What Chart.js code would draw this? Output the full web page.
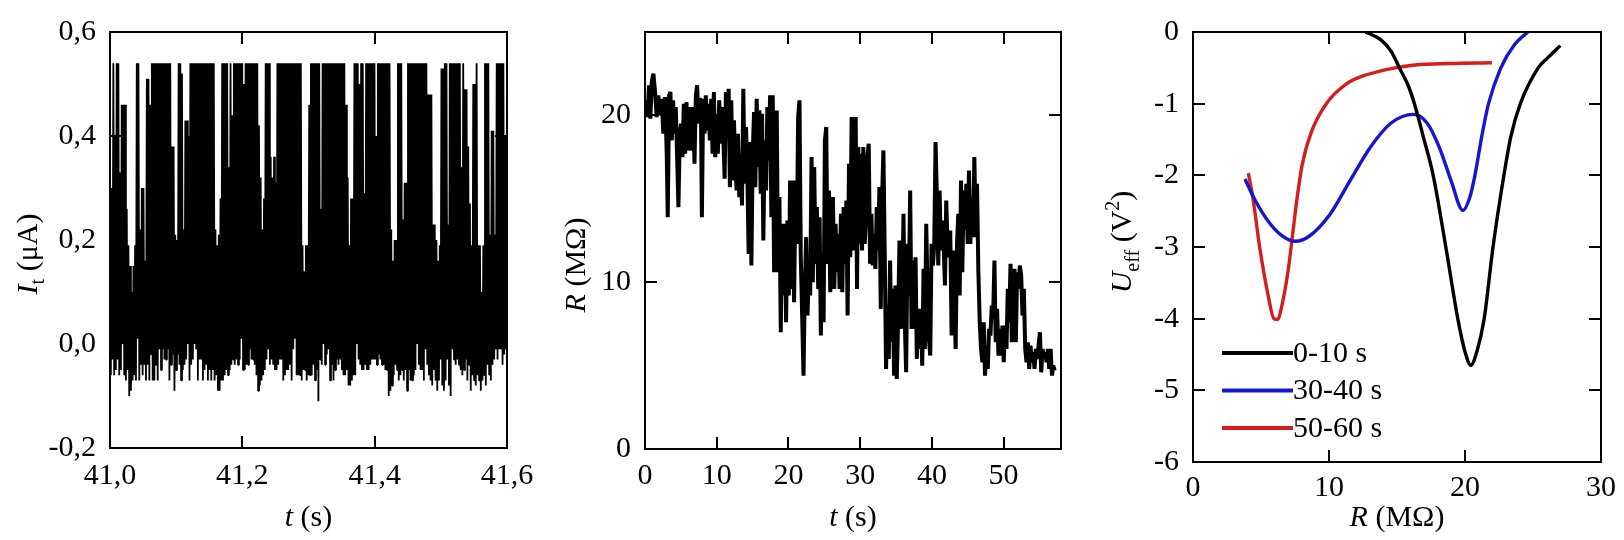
<!DOCTYPE html>
<html>
<head>
<meta charset="utf-8">
<script src="https://cdn.jsdelivr.net/npm/chart.js@4.4.1/dist/chart.umd.min.js"></script>
<style>
  body { margin: 0; background: #fff; }
  #wrap { position: relative; width: 1624px; height: 540px; }
  canvas { position: absolute; top: 0; }
</style>
</head>
<body>
<div id="wrap">
  <canvas id="c1" width="545" height="540" style="left:0px"></canvas>
  <canvas id="c2" width="535" height="540" style="left:545px"></canvas>
  <canvas id="c3" width="544" height="540" style="left:1080px"></canvas>
</div>
<script>
// ---- panel 1: tunnel current, upper / lower envelope read per sample ----
const currentStart = 41.0;
const currentStep = 0.00253;
const currentHigh = [
  0.30,0.30,0.54,0.40,0.54,0.54,0.33,0.46,0.46,0.46,
  0.26,0.19,0.15,0.10,0.15,0.19,0.54,0.54,0.22,0.30,
  0.30,0.16,0.51,0.51,0.46,0.54,0.54,0.54,0.54,0.54,
  0.54,0.54,0.54,0.54,0.54,0.54,0.54,0.38,0.38,0.21,
  0.20,0.54,0.54,0.52,0.22,0.43,0.43,0.40,0.54,0.54,
  0.54,0.54,0.54,0.54,0.54,0.54,0.54,0.54,0.54,0.54,
  0.54,0.54,0.54,0.22,0.19,0.21,0.28,0.54,0.54,0.54,
  0.54,0.34,0.54,0.44,0.54,0.54,0.54,0.54,0.54,0.54,
  0.50,0.54,0.54,0.54,0.54,0.54,0.54,0.54,0.54,0.42,
  0.32,0.22,0.28,0.54,0.54,0.54,0.36,0.32,0.36,0.31,
  0.54,0.54,0.54,0.54,0.54,0.54,0.54,0.54,0.54,0.54,
  0.54,0.54,0.54,0.54,0.54,0.19,0.14,0.19,0.19,0.46,
  0.54,0.54,0.54,0.54,0.54,0.54,0.26,0.54,0.54,0.54,
  0.54,0.54,0.54,0.54,0.54,0.54,0.54,0.54,0.54,0.54,
  0.54,0.46,0.32,0.19,0.28,0.28,0.54,0.54,0.54,0.50,
  0.54,0.54,0.29,0.54,0.54,0.54,0.54,0.54,0.54,0.40,
  0.54,0.54,0.54,0.54,0.54,0.54,0.54,0.54,0.22,0.16,
  0.20,0.20,0.54,0.54,0.54,0.24,0.31,0.31,0.54,0.54,
  0.54,0.54,0.54,0.54,0.54,0.54,0.54,0.54,0.54,0.54,
  0.48,0.48,0.48,0.23,0.23,0.20,0.16,0.19,0.53,0.53,
  0.54,0.54,0.23,0.54,0.54,0.54,0.54,0.54,0.54,0.54,
  0.34,0.54,0.49,0.49,0.38,0.27,0.19,0.50,0.50,0.54,
  0.19,0.19,0.10,0.19,0.54,0.54,0.54,0.21,0.41,0.41,
  0.21,0.54,0.54,0.54,0.54,0.54,0.40,0.36
];
const currentLow = [
  -0.06,-0.03,-0.06,-0.05,-0.03,-0.06,-0.05,0.00,-0.06,-0.07,
  -0.05,-0.10,-0.09,-0.07,-0.06,-0.07,0.01,-0.07,-0.04,-0.06,
  -0.04,-0.07,-0.04,-0.07,-0.02,-0.07,-0.07,-0.04,-0.07,-0.01,
  -0.05,-0.01,-0.03,-0.03,-0.01,-0.07,-0.04,-0.02,-0.09,-0.05,
  -0.02,-0.04,-0.07,-0.05,-0.04,-0.03,0.00,-0.07,-0.04,-0.03,
  0.00,-0.01,-0.07,-0.03,-0.03,-0.07,-0.05,-0.04,-0.07,-0.05,
  -0.07,-0.05,-0.07,-0.06,-0.09,-0.09,-0.07,-0.07,-0.06,-0.05,
  -0.06,-0.05,-0.04,-0.03,-0.04,-0.03,-0.04,-0.03,0.01,-0.05,
  -0.05,-0.04,-0.04,-0.01,-0.03,-0.03,-0.04,-0.06,-0.09,-0.08,
  -0.07,-0.06,-0.05,-0.03,-0.01,-0.04,-0.03,-0.04,-0.05,-0.05,
  -0.04,-0.03,-0.03,-0.07,-0.06,-0.05,-0.05,-0.04,-0.07,-0.01,
  0.01,-0.06,-0.06,-0.06,-0.07,-0.05,-0.05,-0.07,-0.06,-0.06,
  -0.06,-0.04,-0.07,-0.05,-0.11,-0.03,-0.04,0.00,-0.04,-0.02,
  -0.01,-0.07,-0.04,-0.07,-0.05,-0.03,-0.04,-0.03,-0.05,-0.06,
  -0.06,-0.05,-0.08,-0.08,-0.07,-0.06,-0.06,0.00,-0.03,-0.04,
  -0.05,-0.05,-0.04,-0.05,-0.05,-0.04,-0.03,-0.03,-0.03,-0.04,
  -0.02,-0.03,-0.04,-0.04,-0.05,-0.05,-0.10,-0.09,-0.08,-0.06,
  -0.04,-0.05,-0.07,-0.06,-0.05,-0.07,-0.05,-0.09,-0.05,-0.07,
  -0.07,-0.06,-0.05,0.00,-0.04,-0.05,-0.05,-0.07,-0.01,-0.04,
  -0.06,-0.07,-0.08,-0.05,-0.07,-0.09,-0.07,-0.03,-0.08,-0.09,
  -0.07,-0.03,-0.08,-0.10,-0.01,-0.03,-0.04,-0.03,-0.04,-0.05,
  -0.06,-0.05,-0.03,-0.07,-0.04,-0.09,-0.06,-0.07,-0.08,-0.06,
  -0.07,-0.09,-0.07,-0.06,-0.08,-0.04,-0.06,-0.07,-0.04,-0.03,
  -0.01,-0.03,-0.01,-0.01,-0.04,-0.02,-0.01,-0.04
];
const currentXTicks = [41.0, 41.2, 41.4, 41.6];
const currentXLabels = ["41,0", "41,2", "41,4", "41,6"];
const currentYTicks = [-0.2, 0, 0.2, 0.4, 0.6];
const currentYLabels = ["-0,2", "0,0", "0,2", "0,4", "0,6"];

// ---- panel 2: resistance vs time ----
const resistanceTime = [
  0.05,0.37,0.56,0.75,0.93,1.17,1.40,1.63,1.86,2.10,
  2.33,2.56,2.80,3.03,3.17,3.36,3.54,3.73,3.92,4.10,
  4.29,4.48,4.66,4.85,5.03,5.22,5.41,5.59,5.78,5.97,
  6.15,6.34,6.53,6.71,6.90,7.09,7.27,7.46,7.60,7.79,
  7.93,8.11,8.30,8.48,8.67,8.86,9.04,9.23,9.42,9.60,
  9.79,9.98,10.16,10.35,10.54,10.72,10.91,11.10,11.28,11.47,
  11.66,11.84,12.03,12.21,12.40,12.59,12.77,12.96,13.15,13.33,
  13.52,13.71,13.89,14.08,14.27,14.45,14.64,14.83,15.01,15.20,
  15.38,15.57,15.76,15.94,16.13,16.32,16.50,16.69,16.88,17.06,
  17.25,17.44,17.62,17.81,18.00,18.18,18.37,18.55,18.74,18.93,
  19.11,19.30,19.49,19.67,19.86,20.05,20.23,20.42,20.61,20.79,
  20.98,21.17,21.35,21.54,21.72,21.91,22.10,22.28,22.47,22.66,
  22.84,23.03,23.22,23.40,23.59,23.78,23.96,24.15,24.34,24.52,
  24.71,24.90,25.08,25.27,25.45,25.64,25.83,26.01,26.20,26.39,
  26.57,26.76,26.95,27.13,27.32,27.51,27.69,27.88,28.07,28.25,
  28.44,28.62,28.81,29.00,29.18,29.37,29.56,29.74,29.93,30.07,
  30.26,30.44,30.63,30.82,31.00,31.19,31.38,31.56,31.75,31.93,
  32.12,32.31,32.49,32.68,32.87,33.05,33.24,33.43,33.61,33.80,
  33.99,34.17,34.36,34.55,34.73,34.92,35.10,35.29,35.48,35.66,
  35.85,36.04,36.22,36.41,36.60,36.78,36.97,37.16,37.34,37.53,
  37.72,37.90,38.09,38.28,38.46,38.65,38.84,39.02,39.21,39.39,
  39.58,39.77,39.95,40.14,40.33,40.51,40.70,40.89,41.07,41.26,
  41.45,41.63,41.82,42.00,42.19,42.38,42.56,42.75,42.94,43.12,
  43.31,43.50,43.68,43.87,44.06,44.24,44.43,44.62,44.80,44.99,
  45.17,45.36,45.55,45.73,45.92,46.11,46.29,46.48,46.67,46.85,
  47.04,47.23,47.41,47.60,47.79,47.97,48.16,48.35,48.53,48.72,
  48.90,49.09,49.28,49.46,49.65,49.84,50.02,50.21,50.40,50.58,
  50.77,50.96,51.14,51.33,51.52,51.70,51.89,52.07,52.26,52.45,
  52.63,52.82,53.01,53.19,53.38,53.57,53.75,53.94,54.13,54.31,
  54.50,54.69,54.87,55.06,55.24,55.43,55.62,55.80,55.99,56.18,
  56.36,56.55,56.74,56.92,57.11
];
const resistanceValue = [
  20.9,19.9,21.8,19.8,22.0,22.5,21.4,19.9,21.2,20.0,
  21.0,18.9,21.1,17.7,13.9,21.2,21.4,18.5,20.9,18.9,
  20.5,17.5,14.5,18.9,19.5,17.5,20.7,17.7,20.8,17.9,
  20.5,18.5,17.9,20.5,17.1,21.2,21.8,19.5,21.0,20.9,
  13.9,21.0,18.9,21.2,19.1,20.7,18.5,21.0,17.7,21.4,
  17.5,20.1,17.7,20.9,18.3,20.5,18.9,16.2,21.4,18.7,
  21.6,15.7,20.9,16.1,19.7,17.3,15.5,18.9,15.1,17.7,
  14.6,21.6,15.9,19.3,16.5,11.7,18.4,11.0,17.5,20.2,
  15.7,21.0,16.9,20.3,15.3,20.1,12.5,18.5,15.5,20.5,
  17.3,21.2,13.9,21.2,10.6,13.5,20.3,10.6,15.1,7.0,
  13.5,9.2,13.5,7.6,13.7,9.2,16.1,9.6,16.1,8.8,
  16.1,12.3,19.9,20.9,11.5,8.0,4.4,9.6,12.7,8.0,
  10.6,9.2,17.5,10.0,16.9,11.1,14.5,9.6,13.9,6.8,
  11.7,7.6,18.5,19.3,11.1,15.5,9.4,11.9,15.1,9.6,
  13.5,10.6,12.9,9.6,14.1,9.4,14.5,11.1,14.9,8.0,
  17.1,11.5,19.9,18.1,11.9,19.9,9.6,18.1,12.3,17.7,
  11.9,18.1,12.3,13.9,17.5,18.3,11.1,14.1,11.0,12.9,
  10.8,14.5,11.9,15.7,8.4,14.9,17.9,11.5,4.8,8.6,
  5.4,11.3,6.4,9.6,4.4,9.8,4.2,7.6,12.5,7.2,
  8.6,14.1,7.6,4.6,12.3,9.2,15.5,7.2,11.3,7.2,
  11.5,5.4,8.4,6.0,8.4,5.0,10.8,6.0,13.5,9.6,
  6.6,5.6,12.3,11.0,12.3,18.4,15.1,11.0,15.5,11.9,
  13.7,12.3,9.8,14.9,12.1,11.5,13.1,6.8,11.9,9.0,
  6.0,12.3,14.1,9.2,16.1,10.6,15.5,13.1,15.9,12.3,
  16.7,12.3,15.1,12.7,17.5,12.7,15.9,10.6,7.6,6.0,
  5.2,7.6,4.4,6.2,4.8,7.2,6.8,8.6,7.8,11.3,
  6.4,8.4,5.6,7.2,5.6,7.4,5.2,7.4,6.0,9.6,
  7.6,11.1,6.4,9.6,10.8,6.4,10.6,9.6,11.0,10.4,
  8.0,9.6,6.0,5.2,6.4,4.8,6.2,5.2,5.8,4.8,
  6.0,5.4,6.2,7.0,4.6,6.0,5.4,5.8,5.2,6.0,
  4.8,6.0,4.4,5.0,4.7
];
const resistanceXTicks = [0, 10, 20, 30, 40, 50];
const resistanceXLabels = ["0", "10", "20", "30", "40", "50"];
const resistanceYTicks = [0, 10, 20];
const resistanceYLabels = ["0", "10", "20"];

// ---- panel 3: effective potential ----
const potentialLabels = ["0-10 s", "30-40 s", "50-60 s"];
const potentialColors = ["#000000", "#1616d0", "#d41e1e"];
const potentialR0 = [12.69,13.82,14.57,15.20,15.83,16.28,16.96,17.66,18.59,19.47,19.97,20.43,20.90,21.41,22.06,22.86,23.37,24.07,25.38,26.13,27.01];
const potentialU0 = [0,-0.11,-0.27,-0.51,-0.75,-1.0,-1.48,-2.0,-3.0,-4.0,-4.44,-4.65,-4.44,-4.0,-3.0,-2.0,-1.46,-1.0,-0.5,-0.35,-0.19];
const potentialR1 = [3.82,4.52,5.53,6.53,7.54,8.54,10.05,11.56,13.07,14.57,16.21,17.21,18.09,18.97,19.85,20.35,20.73,21.23,21.73,22.61,23.62,24.62];
const potentialU1 = [-2.05,-2.33,-2.64,-2.84,-2.92,-2.85,-2.55,-2.07,-1.60,-1.27,-1.15,-1.27,-1.60,-2.07,-2.49,-2.31,-2.0,-1.46,-1.0,-0.51,-0.18,0];
const potentialR2 = [4.07,4.40,4.90,5.53,5.95,6.23,6.53,6.98,7.29,7.66,8.04,8.67,9.80,11.31,12.56,14.57,16.33,18.84,21.98];
const potentialU2 = [-1.97,-2.31,-3.0,-3.68,-4.0,-4.01,-3.82,-3.35,-2.88,-2.31,-1.84,-1.41,-1.0,-0.72,-0.61,-0.51,-0.46,-0.44,-0.43];
const potentialXTicks = [0, 10, 20, 30];
const potentialXLabels = ["0", "10", "20", "30"];
const potentialYTicks = [-6, -5, -4, -3, -2, -1, 0];
const potentialYLabels = ["-6", "-5", "-4", "-3", "-2", "-1", "0"];

const SERIF = '"Liberation Serif", "Times New Roman", serif';
Chart.defaults.font.family = SERIF;
Chart.defaults.font.size = 30;
Chart.defaults.color = "#000";

function fontOf(p) {
  return (p.italic ? "italic " : "") + (p.size || 30) + "px " + SERIF;
}

// text with italic / sub / sup pieces, centred on (x, y) baseline
function drawRich(ctx, parts, x, y, vertical) {
  ctx.save();
  ctx.translate(x, y);
  if (vertical) ctx.rotate(-Math.PI / 2);
  ctx.textAlign = "left";
  ctx.textBaseline = "alphabetic";
  let w = 0;
  parts.forEach(p => { ctx.font = fontOf(p); w += ctx.measureText(p.text).width; });
  let cx = -w / 2;
  parts.forEach(p => {
    ctx.font = fontOf(p);
    ctx.fillText(p.text, cx, p.shift || 0);
    cx += ctx.measureText(p.text).width;
  });
  ctx.restore();
}

function makeFrame(cfg) {
  return {
    id: "frame",
    afterDraw(chart) {
      const { ctx, chartArea: a } = chart;
      const xs = chart.scales.x, ys = chart.scales.y;
      const len = 12;
      ctx.save();
      ctx.strokeStyle = "#000";
      ctx.lineWidth = 2;
      ctx.beginPath();
      xs.ticks.forEach(t => {
        const p = Math.round(xs.getPixelForValue(t.value));
        ctx.moveTo(p, a.bottom); ctx.lineTo(p, a.bottom - len);
        ctx.moveTo(p, a.top); ctx.lineTo(p, a.top + len);
      });
      ys.ticks.forEach(t => {
        const p = Math.round(ys.getPixelForValue(t.value));
        ctx.moveTo(a.left, p); ctx.lineTo(a.left + len, p);
        ctx.moveTo(a.right, p); ctx.lineTo(a.right - len, p);
      });
      ctx.stroke();
      ctx.strokeRect(a.left, a.top, a.right - a.left, a.bottom - a.top);
      ctx.fillStyle = "#000";
      drawRich(ctx, cfg.xTitle, (a.left + a.right) / 2, cfg.xTitleY, false);
      drawRich(ctx, cfg.yTitle, cfg.yTitleX, cfg.yTitleY, true);
      if (cfg.legend) {
        chart.data.datasets.forEach((ds, i) => {
          const y = cfg.legend.y0 + i * cfg.legend.dy;
          ctx.strokeStyle = ds.borderColor;
          ctx.lineWidth = 4;
          ctx.beginPath();
          ctx.moveTo(cfg.legend.x0, y);
          ctx.lineTo(cfg.legend.x1, y);
          ctx.stroke();
          ctx.font = "30px " + SERIF;
          ctx.textAlign = "left";
          ctx.textBaseline = "middle";
          ctx.fillStyle = "#000";
          ctx.fillText(ds.label, cfg.legend.x1, y + 1);
        });
      }
      ctx.restore();
    }
  };
}

function panelOptions(o) {
  return {
    responsive: false,
    animation: false,
    devicePixelRatio: 1,
    events: [],
    layout: { padding: { top: o.top, right: o.right, left: 0, bottom: 0 } },
    plugins: { legend: { display: false }, tooltip: { enabled: false } },
    scales: {
      x: {
        type: "linear", min: o.xMin, max: o.xMax,
        grid: { display: false, drawTicks: false },
        border: { display: false },
        afterFit: s => { s.height = o.xHeight; },
        afterBuildTicks: s => { s.ticks = o.xTicks.map(v => ({ value: v })); },
        ticks: { padding: o.xPad, maxRotation: 0, autoSkip: false, callback: (v, i) => o.xLabels[i] }
      },
      y: {
        type: "linear", min: o.yMin, max: o.yMax,
        grid: { display: false, drawTicks: false },
        border: { display: false },
        afterFit: s => { s.width = o.yWidth; },
        afterBuildTicks: s => { s.ticks = o.yTicks.map(v => ({ value: v })); },
        ticks: { padding: 14, autoSkip: false, callback: (v, i) => o.yLabels[i] }
      }
    }
  };
}

// panel 1
const currentPoints = [];
currentHigh.forEach((h, i) => {
  currentPoints.push({ x: currentStart + i * currentStep, y: h });
  currentPoints.push({ x: currentStart + (i + 0.5) * currentStep, y: currentLow[i] });
});
new Chart(document.getElementById("c1"), {
  type: "line",
  data: { datasets: [{ data: currentPoints, borderColor: "#000", borderWidth: 1.8, pointRadius: 0, tension: 0, borderJoinStyle: "bevel" }] },
  options: panelOptions({
    top: 31, right: 38, xHeight: 92, yWidth: 110, xPad: 10,
    xMin: 41.0, xMax: 41.6, yMin: -0.2, yMax: 0.6,
    xTicks: currentXTicks, xLabels: currentXLabels, yTicks: currentYTicks, yLabels: currentYLabels
  }),
  plugins: [makeFrame({
    xTitle: [{ text: "t", italic: true }, { text: " (s)" }], xTitleY: 526,
    yTitle: [{ text: "I", italic: true }, { text: "t", size: 20, shift: 7 }, { text: " (\u03BCA)" }],
    yTitleX: 37, yTitleY: 254
  })]
});

// panel 2
new Chart(document.getElementById("c2"), {
  type: "line",
  data: {
    datasets: [{
      data: resistanceTime.map((t, i) => ({ x: t, y: resistanceValue[i] })),
      borderColor: "#000", borderWidth: 4, pointRadius: 0, tension: 0, borderJoinStyle: "bevel"
    }]
  },
  options: panelOptions({
    top: 28, right: 19, xHeight: 91, yWidth: 100, xPad: 9,
    xMin: 0, xMax: 58, yMin: 0, yMax: 25,
    xTicks: resistanceXTicks, xLabels: resistanceXLabels, yTicks: resistanceYTicks, yLabels: resistanceYLabels
  }),
  plugins: [makeFrame({
    xTitle: [{ text: "t", italic: true }, { text: " (s)" }], xTitleY: 526,
    yTitle: [{ text: "R", italic: true }, { text: " (M\u03A9)" }],
    yTitleX: 40, yTitleY: 265
  })]
});

// panel 3
const potentialR = [potentialR0, potentialR1, potentialR2];
const potentialU = [potentialU0, potentialU1, potentialU2];
new Chart(document.getElementById("c3"), {
  type: "line",
  data: {
    datasets: potentialLabels.map((label, k) => ({
      label,
      data: potentialR[k].map((r, i) => ({ x: r, y: potentialU[k][i] })),
      borderColor: potentialColors[k], borderWidth: 3.4, pointRadius: 0,
      cubicInterpolationMode: "monotone"
    }))
  },
  options: panelOptions({
    top: 25, right: 19, xHeight: 78, yWidth: 113, xPad: 8,
    xMin: 0, xMax: 30, yMin: -6, yMax: 0,
    xTicks: potentialXTicks, xLabels: potentialXLabels, yTicks: potentialYTicks, yLabels: potentialYLabels
  }),
  plugins: [makeFrame({
    xTitle: [{ text: "R", italic: true }, { text: " (M\u03A9)" }], xTitleY: 526,
    yTitle: [{ text: "U", italic: true }, { text: "eff", size: 20, shift: 8 }, { text: " (V" }, { text: "2", size: 20, shift: -12 }, { text: ")" }],
    yTitleX: 51, yTitleY: 242,
    legend: { x0: 142, x1: 213, y0: 353, dy: 37.5 }
  })]
});
</script>
</body>
</html>
